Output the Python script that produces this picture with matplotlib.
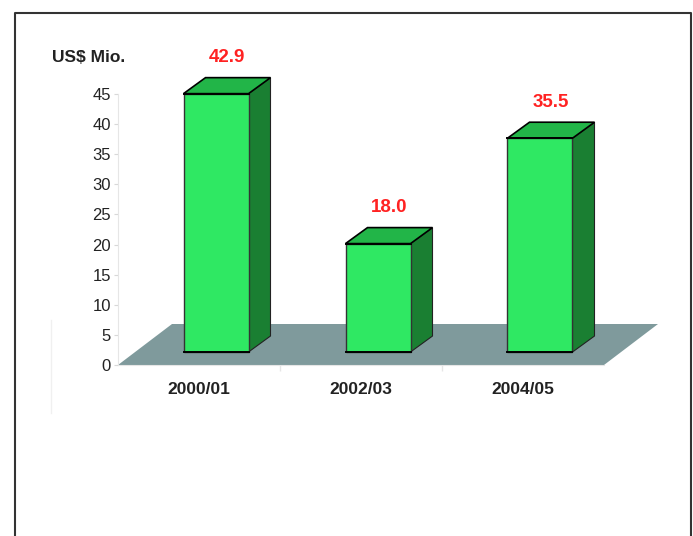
import matplotlib
matplotlib.use('Agg')
import matplotlib.pyplot as plt
from matplotlib.patches import Polygon
from matplotlib.lines import Line2D

plt.rcParams['font.family'] = ['Liberation Sans', 'DejaVu Sans']

categories = ['2000/01', '2002/03', '2004/05']
values = [42.9, 18.0, 35.5]
value_labels = ['42.9', '18.0', '35.5']
yticks = [0, 5, 10, 15, 20, 25, 30, 35, 40, 45]

W, H = 693, 536
fig = plt.figure(figsize=(W / 100, H / 100), dpi=100)

# axes placed so that 0 sits at y=365px and 45 at y=94px
px_x = 162.0        # px per category slot
px_y = 271.0 / 45   # px per unit
ax = fig.add_axes([118 / W, (H - 365) / H, (670 - 118) / W, 271 / H])
ax.set_xlim(-0.5, -0.5 + (670 - 118) / px_x)
ax.set_ylim(0, 45)

# depth offsets (in data units)
floor_dx, floor_dy = 54 / px_x, 41 / px_y
bar_off_x, bar_off_y = 17 / px_x, 13 / px_y
side_dx, side_dy = 22 / px_x, 16 / px_y
bar_w = 65 / px_x

front_c = '#2fe863'
side_c = '#1a7f32'
top_c = '#22b548'
floor_c = '#7f9a9c'

# floor
n = len(categories)
floor = Polygon([(-0.5, 0), (n - 0.5, 0), (n - 0.5 + floor_dx, floor_dy),
                 (-0.5 + floor_dx, floor_dy)], closed=True,
                facecolor=floor_c, edgecolor='none', clip_on=False, zorder=1)
ax.add_patch(floor)

for i, v in enumerate(values):
    x0 = i - bar_w / 2 + bar_off_x
    x1 = x0 + bar_w
    y0 = bar_off_y
    y1 = v + bar_off_y
    side = Polygon([(x1, y0), (x1 + side_dx, y0 + side_dy), (x1 + side_dx, y1 + side_dy), (x1, y1)],
                   closed=True, facecolor=side_c, edgecolor='#222222', lw=0.8, clip_on=False, zorder=3)
    top = Polygon([(x0, y1), (x1, y1), (x1 + side_dx, y1 + side_dy), (x0 + side_dx, y1 + side_dy)],
                  closed=True, facecolor=top_c, edgecolor='black', lw=1.2, clip_on=False, zorder=3)
    front = Polygon([(x0, y0), (x1, y0), (x1, y1), (x0, y1)], closed=True,
                    facecolor=front_c, edgecolor='#333333', lw=1.0, clip_on=False, zorder=4)
    ax.add_patch(side)
    ax.add_patch(top)
    ax.add_patch(front)
    ax.plot([x0, x1], [y1, y1], color='black', lw=1.4, clip_on=False, zorder=5)
    ax.plot([x0, x1], [y0, y0], color='black', lw=1.4, clip_on=False, zorder=5)
    ax.text((x0 + x1 + side_dx) / 2, y1 + side_dy + 20 / px_y, value_labels[i],
            color='#ff2222', fontsize=13.5, fontweight='bold', ha='center', va='center')

ax.set_yticks(yticks)
ax.set_yticklabels([str(t) for t in yticks], fontsize=12, color='#222222')
ax.set_xticks(range(n))
ax.set_xticklabels(categories, fontsize=12.5, fontweight='bold', color='#222222')
ax.set_xticks([0.5, 1.5], minor=True)
ax.tick_params(axis='x', which='major', length=0, pad=12)
ax.tick_params(axis='x', which='minor', length=4, color='#e6e6e6', width=1)
ax.tick_params(axis='y', length=3, color='#d8d8d8', pad=2)

for s in ['top', 'right']:
    ax.spines[s].set_visible(False)
ax.spines['left'].set_color('#e6e6e6')
ax.spines['bottom'].set_color('#e6e6e6')
ax.spines['bottom'].set_bounds(-0.5, n - 0.5)
ax.patch.set_alpha(0)

fig.text(52 / W, 1 - 58 / H, 'US$ Mio.', fontsize=12.5, fontweight='bold',
         color='#222222', ha='left', va='center')

# faint line at the left and the outer frame
fig.add_artist(Line2D([51 / W, 51 / W], [1 - 320 / H, 1 - 413 / H], color='#f0f0f0', lw=1))
fig.add_artist(Line2D([15 / W, 15 / W, 691 / W, 691 / W],
                      [-0.01, 1 - 13 / H, 1 - 13 / H, -0.01], color='#333333', lw=1.5))

fig.savefig('out.png', dpi=100)
